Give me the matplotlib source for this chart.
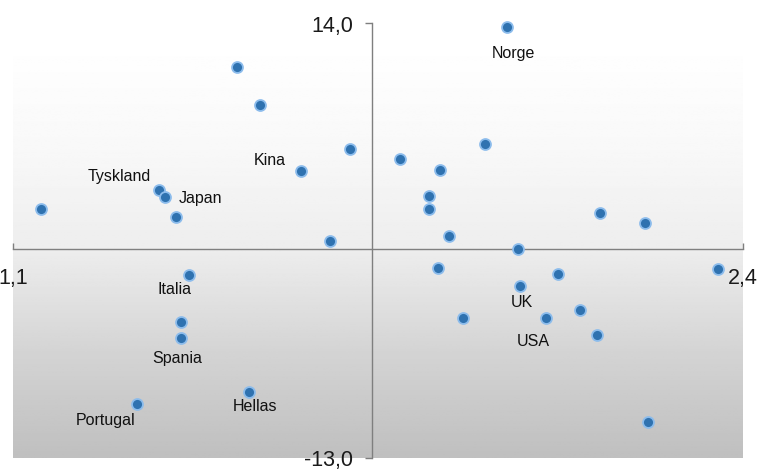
#!/usr/bin/env python3
# -*- coding: utf-8 -*-
"""
Scatter of countries with crossing axes on a grey gradient background
"""

import matplotlib
matplotlib.use('Agg')
import matplotlib.pyplot as plt
import numpy as np

plt.rcParams['font.family'] = ['Liberation Sans', 'DejaVu Sans']

# Data
x_values = [1.499, 1.540, 1.700, 1.613, 1.360, 1.370, 1.149, 1.390, 1.665,
            1.980, 1.940, 1.790, 1.860, 1.840, 1.840, 2.145, 2.226, 1.876,
            1.413, 1.400, 1.400, 1.520, 1.320,
            2.000, 1.857, 2.070, 2.356, 2.002, 1.901, 2.050, 2.110, 2.140, 2.230]
y_values = [11.29, 8.91, 6.18, 4.83, 3.65, 3.23, 2.48, 1.97, 0.47,
            13.80, 6.49, 5.55, 4.91, 3.29, 2.46, 2.20, 1.57, 0.80,
            -1.62, -4.54, -5.54, -8.94, -9.64,
            -0.04, -1.22, -1.58, -1.29, -2.31, -4.31, -4.31, -3.84, -5.35, -10.78]
names = ['', '', '', 'Kina', 'Tyskland', 'Japan', '', '', '',
         'Norge', '', '', '', '', '', '', '', '',
         'Italia', '', 'Spania', 'Hellas', 'Portugal',
         '', '', '', '', 'UK', '', 'USA', '', '', '']

x_min, x_max = 1.1, 2.4
y_min, y_max = -13.0, 14.0
x_cross = 1.74

# label offsets in pixels (dx, dy)
label_offsets = {
    'Norge': (6, -27), 'Kina': (-31, 10), 'Tyskland': (-40, 13),
    'Japan': (36, -2), 'Italia': (-14, -15), 'Spania': (-4, -21),
    'Hellas': (6, -14), 'Portugal': (-31, -17), 'UK': (2, -17),
    'USA': (-13, -24),
}

fig = plt.figure(figsize=(7.6, 4.69), dpi=100)
ax = fig.add_axes([13 / 760, 11.3 / 469, 730 / 760, 434.2 / 469])
ax.set_xlim(x_min, x_max)
ax.set_ylim(y_min, y_max)

# Background gradient (white at top -> grey at bottom)
frac = np.linspace(0, 1, 256)
shade = np.interp(frac, [0.0, 0.25, 0.5, 0.75, 1.0], [1.0, 0.975, 0.93, 0.83, 0.75])
grad = np.repeat(shade[:, None], 2, axis=1)
ax.imshow(grad, extent=[x_min, x_max, y_min, 12.97], aspect='auto',
          cmap='gray', vmin=0, vmax=1, origin='upper', zorder=0)

# Axis lines crossing inside the plot
for side in ['top', 'right']:
    ax.spines[side].set_visible(False)
ax.spines['left'].set_position(('data', x_cross))
ax.spines['bottom'].set_position(('data', 0))
for side in ['left', 'bottom']:
    ax.spines[side].set_color('#7f7f7f')
    ax.spines[side].set_linewidth(1.0)
    ax.spines[side].set_zorder(1)

ax.set_xticks([x_min, x_max])
ax.set_xticklabels(['1,1', '2,4'])
ax.set_yticks([y_max, y_min])
ax.set_yticklabels(['14,0', '-13,0'])
ax.tick_params(axis='x', direction='in', length=4.3, width=1.0, color='#7f7f7f',
               pad=14, labelsize=15.5, labelcolor='#1a1a1a')
ax.tick_params(axis='y', direction='out', length=5, width=1.0, color='#7f7f7f',
               pad=9, labelsize=15.5, labelcolor='#1a1a1a')

ax.scatter(x_values, y_values, s=62, color='#2f72b0', edgecolors='#8cbcec',
           linewidths=1.3, zorder=3, clip_on=False)

for x, y, name in zip(x_values, y_values, names):
    if not name:
        continue
    dx, dy = label_offsets[name]
    ax.annotate(name, (x, y), xytext=(dx, dy), textcoords='offset pixels',
                ha='center', va='center', fontsize=11.5, color='#111111', zorder=4)

plt.savefig('out.png', dpi=100)
plt.close()
